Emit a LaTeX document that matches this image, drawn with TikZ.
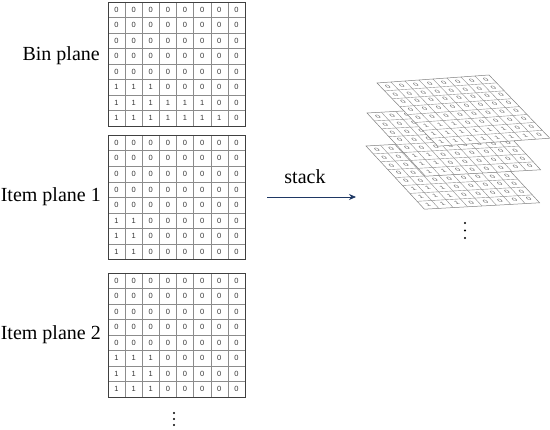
\documentclass[tikz,border=0pt]{standalone}
\usepackage{fontspec}
\setmainfont{Liberation Serif}
\newfontfamily\digitfont{Liberation Sans}
\usetikzlibrary{arrows.meta}

\definecolor{arrowblue}{RGB}{31,56,100}

% the three occupancy matrices
\newcommand{\binrows}{{0,0,0,0,0,0,0,0},{0,0,0,0,0,0,0,0},{0,0,0,0,0,0,0,0},{0,0,0,0,0,0,0,0},{0,0,0,0,0,0,0,0},{1,1,1,0,0,0,0,0},{1,1,1,1,1,1,0,0},{1,1,1,1,1,1,1,0}}
\newcommand{\itemArows}{{0,0,0,0,0,0,0,0},{0,0,0,0,0,0,0,0},{0,0,0,0,0,0,0,0},{0,0,0,0,0,0,0,0},{0,0,0,0,0,0,0,0},{1,1,0,0,0,0,0,0},{1,1,0,0,0,0,0,0},{1,1,0,0,0,0,0,0}}
\newcommand{\itemBrows}{{0,0,0,0,0,0,0,0},{0,0,0,0,0,0,0,0},{0,0,0,0,0,0,0,0},{0,0,0,0,0,0,0,0},{0,0,0,0,0,0,0,0},{1,1,1,0,0,0,0,0},{1,1,1,0,0,0,0,0},{1,1,1,0,0,0,0,0}}

% #1 name prefix, #2 cell style, #3 line style, #4 rows
\newcommand{\planecells}[4]{%
  \foreach \k in {1,...,7} {
    \draw[#3] (\k,0) -- (\k,8);
    \draw[#3] (0,\k) -- (8,\k);
  }
  \foreach \row [count=\r] in #4 {
    \foreach \v [count=\c] in \row
      \node[#2] (#1-\r-\c) at (\c-0.5,\r-0.5) {\v};
  }
}

\tikzset{
  planelabel/.style={anchor=east, inner sep=0pt, font=\fontsize{20}{24}\selectfont},
  cell/.style={inner sep=0pt, text=black!80, font=\digitfont\fontsize{7.5}{8}\selectfont},
  tinycell/.style={cell, text=black!60, transform shape, scale=0.075},
  gridline/.style={draw=black!45, line width=0.5pt},
  frame/.style={draw=black!75, line width=0.7pt},
  sheetline/.style={draw=black!45, line width=0.4pt},
  sheet/.style={fill=white, draw=black!50, line width=0.5pt},
}

\begin{document}
\begin{tikzpicture}[x=1pt, y=-1pt, >={Stealth[length=7pt,width=6pt]}]
  \useasboundingbox (0,0) rectangle (550,430);

  % left: the planes one by one
  \node[planelabel] (binlabel) at (100,56) {Bin plane};
  \begin{scope}[shift={(108,2)}, x=17.125pt, y=-15.5pt]
    \planecells{bin}{cell}{gridline}{\binrows}
    \draw[frame] (0,0) rectangle (8,8);
  \end{scope}

  \node[planelabel] (itemAlabel) at (101,197) {Item plane 1};
  \begin{scope}[shift={(108,135)}, x=17.125pt, y=-15.6pt]
    \planecells{itemA}{cell}{gridline}{\itemArows}
    \draw[frame] (0,0) rectangle (8,8);
  \end{scope}

  \node[planelabel] (itemBlabel) at (101,335) {Item plane 2};
  \begin{scope}[shift={(108,273)}, x=17.125pt, y=-15.5pt]
    \planecells{itemB}{cell}{gridline}{\itemBrows}
    \draw[frame] (0,0) rectangle (8,8);
  \end{scope}

  \foreach \k in {0,1,2}
    \fill (174,413+6*\k) circle (1.1pt);

  % middle: arrow
  \node[font=\fontsize{20}{24}\selectfont] (stacklabel) at (305,177) {stack};
  \coordinate (stackfrom) at (267,197);
  \coordinate (stackto) at (356,197);
  \draw[->, arrowblue, line width=0.8pt] (stackfrom) -- (stackto);

  % right: planes stacked, bottom one first
  \begin{scope}[cm={14.4,0.8,-7.3,7.9,(366,146)}]
    \draw[sheet] (0,0) rectangle (8,8);
    \planecells{stackB}{tinycell}{sheetline}{\itemBrows}
  \end{scope}
  \begin{scope}[cm={14.4,0.8,-7.3,7.9,(367,113)}]
    \draw[sheet] (0,0) rectangle (8,8);
    \planecells{stackA}{tinycell}{sheetline}{\itemArows}
  \end{scope}
  \begin{scope}[cm={14.0,1.0,-7.6,7.9,(377,83)}]
    \draw[sheet] (0,0) rectangle (8,8);
    \planecells{stackbin}{tinycell}{sheetline}{\binrows}
  \end{scope}

  \foreach \k in {0,1,2}
    \fill (465,223+7.5*\k) circle (1.1pt);
\end{tikzpicture}
\end{document}
